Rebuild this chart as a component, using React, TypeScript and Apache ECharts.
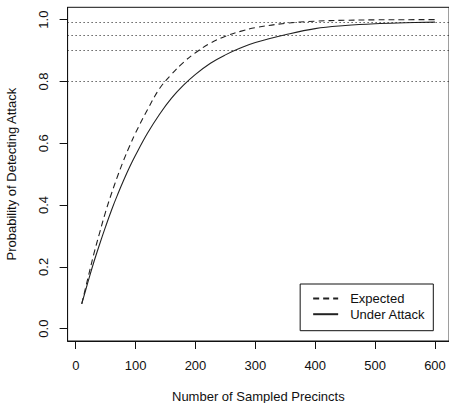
import React, { useEffect, useRef } from "react";
import * as echarts from "echarts";

const xs = [10, 20, 30, 40, 50, 60, 70, 80, 90, 100, 120, 140, 160, 180, 200, 225, 250, 275, 300, 350, 400, 450, 500, 550, 600];
const expected = [0.08, 0.161, 0.24, 0.311, 0.379, 0.439, 0.494, 0.545, 0.591, 0.634, 0.709, 0.777, 0.823, 0.862, 0.893, 0.924, 0.946, 0.962, 0.974, 0.988, 0.995, 0.998, 0.9994, 0.9999, 1.0];
const underAttack = [0.08, 0.148, 0.214, 0.274, 0.331, 0.385, 0.434, 0.48, 0.523, 0.562, 0.633, 0.694, 0.746, 0.788, 0.823, 0.859, 0.886, 0.908, 0.926, 0.951, 0.971, 0.981, 0.987, 0.99, 0.992];
const xTicks = [0, 100, 200, 300, 400, 500, 600];
const yTicks = [0, 0.2, 0.4, 0.6, 0.8, 1.0];
const thresholds = [0.8, 0.9, 0.95, 0.99];
const seriesNames = ["Expected", "Under Attack"];

const FONT = "'Liberation Sans', Arial, Helvetica, sans-serif";

export default function App() {
  const ref = useRef<HTMLDivElement>(null);
  useEffect(() => {
    if (!ref.current) return;
    const chart = echarts.init(ref.current, undefined, { renderer: "svg" });
    chart.setOption({
      animation: false,
      backgroundColor: "#fff",
      textStyle: { fontFamily: FONT },
      grid: {
        left: 67.6,
        top: 7.3,
        width: 381.5,
        height: 333.7,
        containLabel: false,
        outerBoundsMode: "none",
        show: true,
        borderColor: "#111",
        borderWidth: 1,
        backgroundColor: "transparent",
      },
      legend: {
        data: seriesNames,
        orient: "vertical",
        right: 15.7,
        bottom: 72.3,
        borderColor: "#111",
        borderWidth: 1,
        borderRadius: 0,
        padding: [8, 8, 10, 12],
        itemWidth: 25,
        itemHeight: 14,
        itemGap: 2.7,
        backgroundColor: "#fff",
        itemStyle: { opacity: 0 },
        textStyle: { fontSize: 13, color: "#111", fontFamily: FONT, padding: [0, 0, 0, 7] },
      },
      xAxis: {
        type: "value",
        min: -13.6,
        max: 623.6,
        splitLine: { show: false },
        axisLine: { show: true, onZero: false, lineStyle: { color: "#111" } },
        axisTick: { show: true, length: 8, customValues: xTicks, lineStyle: { color: "#111" } },
        axisLabel: {
          customValues: xTicks,
          margin: 18,
          fontSize: 13,
          color: "#111",
          fontFamily: FONT,
        },
        name: "Number of Sampled Precincts",
        nameLocation: "middle",
        nameGap: 49,
        nameTextStyle: { fontSize: 13, color: "#111", fontFamily: FONT },
      },
      yAxis: {
        type: "value",
        min: -0.04,
        max: 1.04,
        splitLine: { show: false },
        axisLine: { show: true, onZero: false, lineStyle: { color: "#111" } },
        axisTick: { show: true, length: 8, customValues: yTicks, lineStyle: { color: "#111" } },
        axisLabel: {
          customValues: yTicks,
          rotate: 90,
          margin: 18,
          fontSize: 13,
          color: "#111",
          fontFamily: FONT,
          formatter: (v: number) => v.toFixed(1),
        },
        name: "Probability of Detecting Attack",
        nameLocation: "middle",
        nameGap: 50,
        nameTextStyle: { fontSize: 13, color: "#111", fontFamily: FONT },
      },
      series: [
        {
          name: seriesNames[0],
          type: "line",
          data: xs.map((x, i) => [x, expected[i]]),
          symbol: "none",
          smooth: 0.4,
          lineStyle: { color: "#222", width: 1.1, type: [6, 4] },
          itemStyle: { color: "#222" },
          markLine: {
            silent: true,
            symbol: ["none", "none"],
            label: { show: false },
            lineStyle: { color: "#111", width: 1, type: [1, 3] },
            data: thresholds.map((v) => ({ yAxis: v })),
          },
        },
        {
          name: seriesNames[1],
          type: "line",
          data: xs.map((x, i) => [x, underAttack[i]]),
          symbol: "none",
          smooth: 0.4,
          lineStyle: { color: "#222", width: 1.1, type: "solid" },
          itemStyle: { color: "#222" },
        },
      ],
    });
    return () => chart.dispose();
  }, []);
  return (
    <div
      ref={ref}
      style={{ position: "fixed", left: 0, top: 0, width: 449, height: 403, background: "#fff" }}
    />
  );
}
